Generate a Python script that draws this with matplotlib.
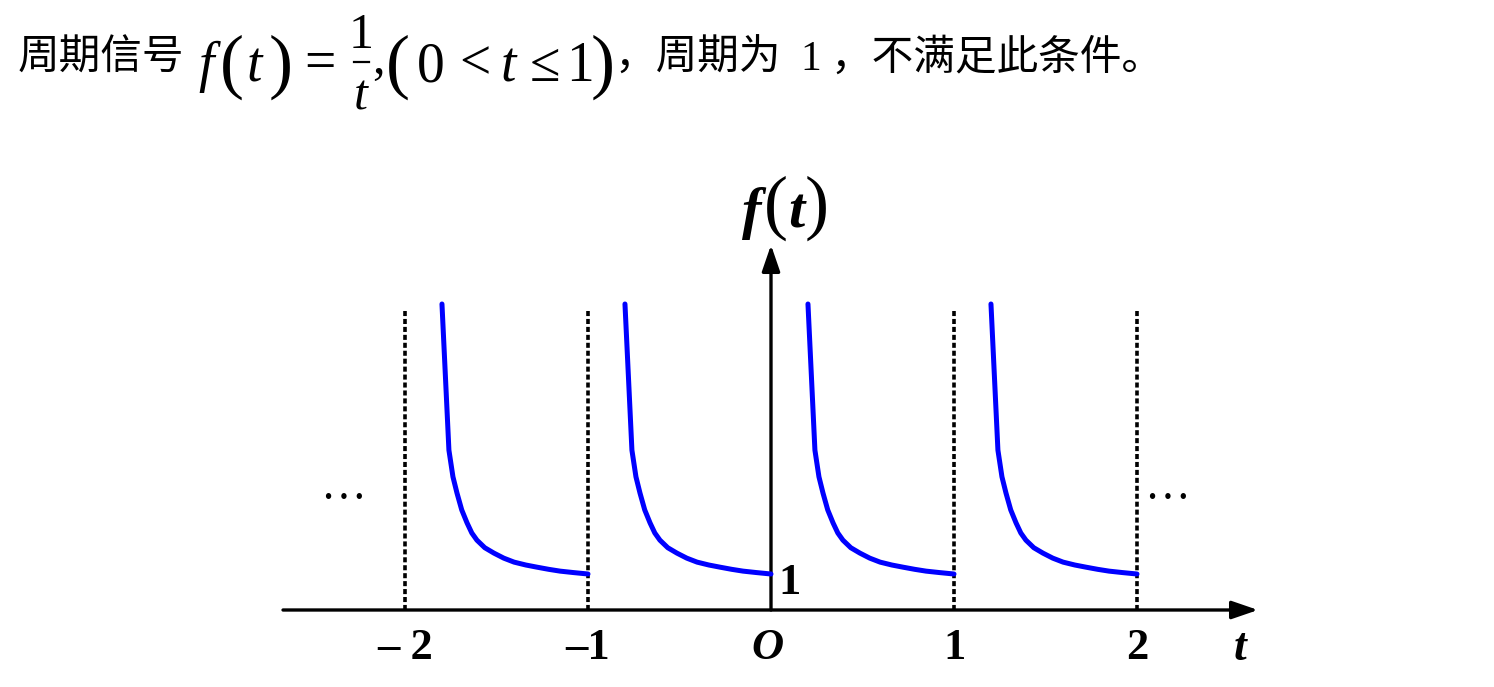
import matplotlib
matplotlib.use("Agg")
import matplotlib.pyplot as plt
from matplotlib.lines import Line2D

# ---- data ----
period_starts = [-2, -1, 0, 1]
curve_t = [0.202, 0.240, 0.262, 0.284, 0.310, 0.339, 0.365, 0.393, 0.436,
           0.486, 0.540, 0.596, 0.660, 0.721, 0.785, 0.847, 0.920, 1.0]
curve_f = [8.5, 4.44, 3.70, 3.25, 2.78, 2.42, 2.14, 1.94, 1.73,
           1.58, 1.44, 1.33, 1.25, 1.19, 1.13, 1.08, 1.04, 1.0]
dotted_t = [-2, -1, 1, 2]
dotted_top = 8.33
tick_pos = [-2, -1, 0, 1, 2]
tick_labels = ['– 2', '–1', 'O', '1', '2']

W, H = 1494, 687
fig = plt.figure(figsize=(W / 100, H / 100), dpi=100)
ax = fig.add_axes([0, 0, 1, 1])
ox, oy, sx, sy = 771, 610, 183, 36
ax.set_xlim(-ox / sx, (W - ox) / sx)
ax.set_ylim(-(H - oy) / sy, oy / sy)
ax.axis('off')


def px(x):
    return (x - ox) / sx


def py(y):
    return (oy - y) / sy


# axes with arrows
ax.annotate('', xy=(px(1258), 0), xytext=(px(283), 0),
            arrowprops=dict(arrowstyle='-|>,head_length=1.6,head_width=0.55',
                            lw=2.4, color='black', shrinkA=0, shrinkB=0))
ax.annotate('', xy=(0, py(245)), xytext=(0, 0),
            arrowprops=dict(arrowstyle='-|>,head_length=1.6,head_width=0.55',
                            lw=2.4, color='black', shrinkA=0, shrinkB=0))

# dotted verticals
for t in dotted_t:
    ax.plot([t, t], [0, dotted_top], color='black', lw=2.6,
            ls=(0, (1.4, 0.8)), zorder=2)

# curves
for s in period_starts:
    ax.plot([s + v for v in curve_t], curve_f, color='#0000ff', lw=3.6,
            solid_capstyle='round', solid_joinstyle='round', zorder=3)

SERIF = 'Liberation Serif'
for p, lab in zip(tick_pos, tick_labels):
    style = 'italic' if lab == 'O' else 'normal'
    xoff = -0.02 if lab == 'O' else 0
    ax.text(p + xoff, py(628), lab, ha='center', va='top', fontsize=32,
            fontstyle=style, family=SERIF, fontweight='bold')

ax.text(px(778), py(583), '1', ha='left', va='center', fontsize=32,
        family=SERIF, fontweight='bold')
ax.text(px(1240), py(628), 't', ha='center', va='top', fontsize=33,
        fontstyle='italic', family=SERIF, fontweight='bold')

# f(t) axis label
lab_base = py(228)
ax.text(px(752), lab_base, 'f', ha='center', va='baseline', fontsize=42,
        fontstyle='italic', family=SERIF, fontweight='bold')
ax.text(px(776), py(226), '(', ha='center', va='baseline', fontsize=52,
        family=SERIF)
ax.text(px(796), lab_base, 't', ha='center', va='baseline', fontsize=42,
        fontstyle='italic', family=SERIF, fontweight='bold')
ax.text(px(817), py(226), ')', ha='center', va='baseline', fontsize=52,
        family=SERIF)

ax.text(px(343), py(488), '…', ha='center', va='center',
        fontsize=33, family=SERIF)
ax.text(px(1167), py(488), '…', ha='center', va='center',
        fontsize=33, family=SERIF)

# ---- title line ----
cjk = ['Noto Sans CJK SC', 'DejaVu Sans']


def ft(x, y, s, **kw):
    fig.text(x / W, 1 - y / H, s, **kw)


cjk_base = 70
ft(18, cjk_base, '周期信号', fontsize=30, family=cjk, ha='left', va='baseline')

mb = 81  # math baseline
mfs = 40
ffs = 36
ft(206, mb, 'f', fontsize=mfs, family=SERIF, fontstyle='italic',
   ha='center', va='baseline')
ft(232, mb + 4, '(', fontsize=52, family=SERIF, ha='center', va='baseline')
ft(254, mb, 't', fontsize=mfs, family=SERIF, fontstyle='italic',
   ha='center', va='baseline')
ft(281, mb + 4, ')', fontsize=52, family=SERIF, ha='center', va='baseline')
ft(320, mb - 2, '=', fontsize=mfs, family=SERIF, ha='center', va='baseline')
ft(361, 48, '1', fontsize=ffs, family=SERIF, ha='center', va='baseline')
fig.add_artist(Line2D([354 / W, 369 / W], [1 - 62 / H, 1 - 62 / H],
                      color='black', lw=1.6))
ft(361, 110, 't', fontsize=ffs, family=SERIF, fontstyle='italic',
   ha='center', va='baseline')
ft(378, mb - 8, ',', fontsize=ffs, family=SERIF, ha='center', va='baseline')
ft(398, mb + 4, '(', fontsize=52, family=SERIF, ha='center', va='baseline')
ft(431, mb, '0', fontsize=mfs, family=SERIF, ha='center', va='baseline')
ft(475, mb - 2, '<', fontsize=mfs, family=SERIF, ha='center', va='baseline')
ft(508, mb, 't', fontsize=mfs, family=SERIF, fontstyle='italic',
   ha='center', va='baseline')
ft(545, mb, '≤', fontsize=mfs, family=SERIF, ha='center', va='baseline')
ft(580, mb, '1', fontsize=mfs, family=SERIF, ha='center', va='baseline')
ft(603, mb + 4, ')', fontsize=52, family=SERIF, ha='center', va='baseline')

ft(614, cjk_base, '，周期为', fontsize=30, family=cjk, ha='left',
   va='baseline')
ft(811, cjk_base, '1', fontsize=30, family=SERIF, ha='center', va='baseline')
ft(830, cjk_base, '，不满足此条件。', fontsize=30, family=cjk, ha='left',
   va='baseline')

fig.savefig('out.png', dpi=100)
